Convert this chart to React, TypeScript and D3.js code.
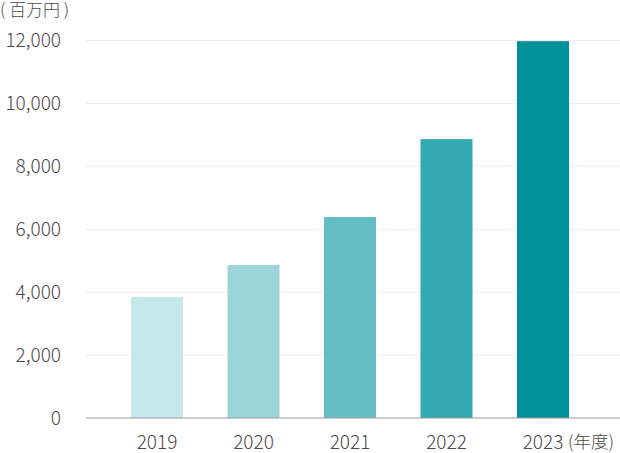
import React, { useEffect, useRef } from "react";
import * as d3 from "d3";

const years = ["2019", "2020", "2021", "2022", "2023"];
const sales = [3850, 4865, 6390, 8865, 11980];
const barColors = ["#c5e9eb", "#9bd4d9", "#67bdc4", "#35aab3", "#00929b"];
const yTicks = [0, 2000, 4000, 6000, 8000, 10000, 12000];

const App: React.FC = () => {
  const ref = useRef<SVGSVGElement>(null);

  useEffect(() => {
    const width = 620;
    const svg = d3.select(ref.current);
    svg.selectAll("*").remove();

    const font = "'Noto Sans CJK JP', 'Noto Sans', sans-serif";
    const textColor = "#4a4a4a";

    const y = d3.scaleLinear().domain([0, 12000]).range([418, 40.5]);

    // bands set up so bars are 52px wide, centers ~96.5px apart
    const x = d3
      .scaleBand()
      .domain(years)
      .range([82.75, 617.25])
      .paddingInner(0.461)
      .paddingOuter(0.5);

    // gridlines
    svg
      .append("g")
      .selectAll("line")
      .data(yTicks.filter((d) => d > 0))
      .enter()
      .append("line")
      .attr("x1", 86)
      .attr("x2", width)
      .attr("y1", (d) => y(d))
      .attr("y2", (d) => y(d))
      .attr("stroke", "#ececec")
      .attr("stroke-width", 1);

    // bars
    svg
      .append("g")
      .selectAll("rect")
      .data(years)
      .enter()
      .append("rect")
      .attr("x", (d) => x(d) as number)
      .attr("y", (d, i) => y(sales[i]))
      .attr("width", x.bandwidth())
      .attr("height", (d, i) => y(0) - y(sales[i]))
      .attr("fill", (d, i) => barColors[i]);

    // baseline
    svg
      .append("line")
      .attr("x1", 86)
      .attr("x2", width)
      .attr("y1", y(0))
      .attr("y2", y(0))
      .attr("stroke", "#999")
      .attr("stroke-width", 1.2);

    // y labels
    svg
      .append("g")
      .selectAll("text")
      .data(yTicks)
      .enter()
      .append("text")
      .attr("x", 61)
      .attr("y", (d) => y(d))
      .attr("dy", "0.36em")
      .attr("text-anchor", "end")
      .style("font-family", font)
      .style("font-weight", 300)
      .style("font-size", "19px")
      .style("fill", textColor)
      .text((d) => d3.format(",")(d));

    // x labels
    svg
      .append("g")
      .selectAll("text")
      .data(years)
      .enter()
      .append("text")
      .attr("x", (d) => (x(d) as number) + x.bandwidth() / 2)
      .attr("y", 449)
      .attr("text-anchor", "middle")
      .style("font-family", font)
      .style("font-weight", 300)
      .style("font-size", "19px")
      .style("fill", textColor)
      .text((d) => d);

    // unit labels
    svg
      .append("text")
      .attr("x", 568)
      .attr("y", 448)
      .style("font-family", font)
      .style("font-weight", 300)
      .style("font-size", "17.5px")
      .style("fill", textColor)
      .text("(年度)");

    svg
      .append("text")
      .attr("x", 0)
      .attr("y", 16)
      .style("font-family", font)
      .style("font-weight", 300)
      .style("font-size", "17px")
      .style("fill", textColor)
      .text("( 百万円 )");
  }, []);

  return (
    <svg
      ref={ref}
      width={620}
      height={453}
      style={{ position: "absolute", left: 0, top: 0, background: "#fff" }}
    />
  );
};

export default App;
